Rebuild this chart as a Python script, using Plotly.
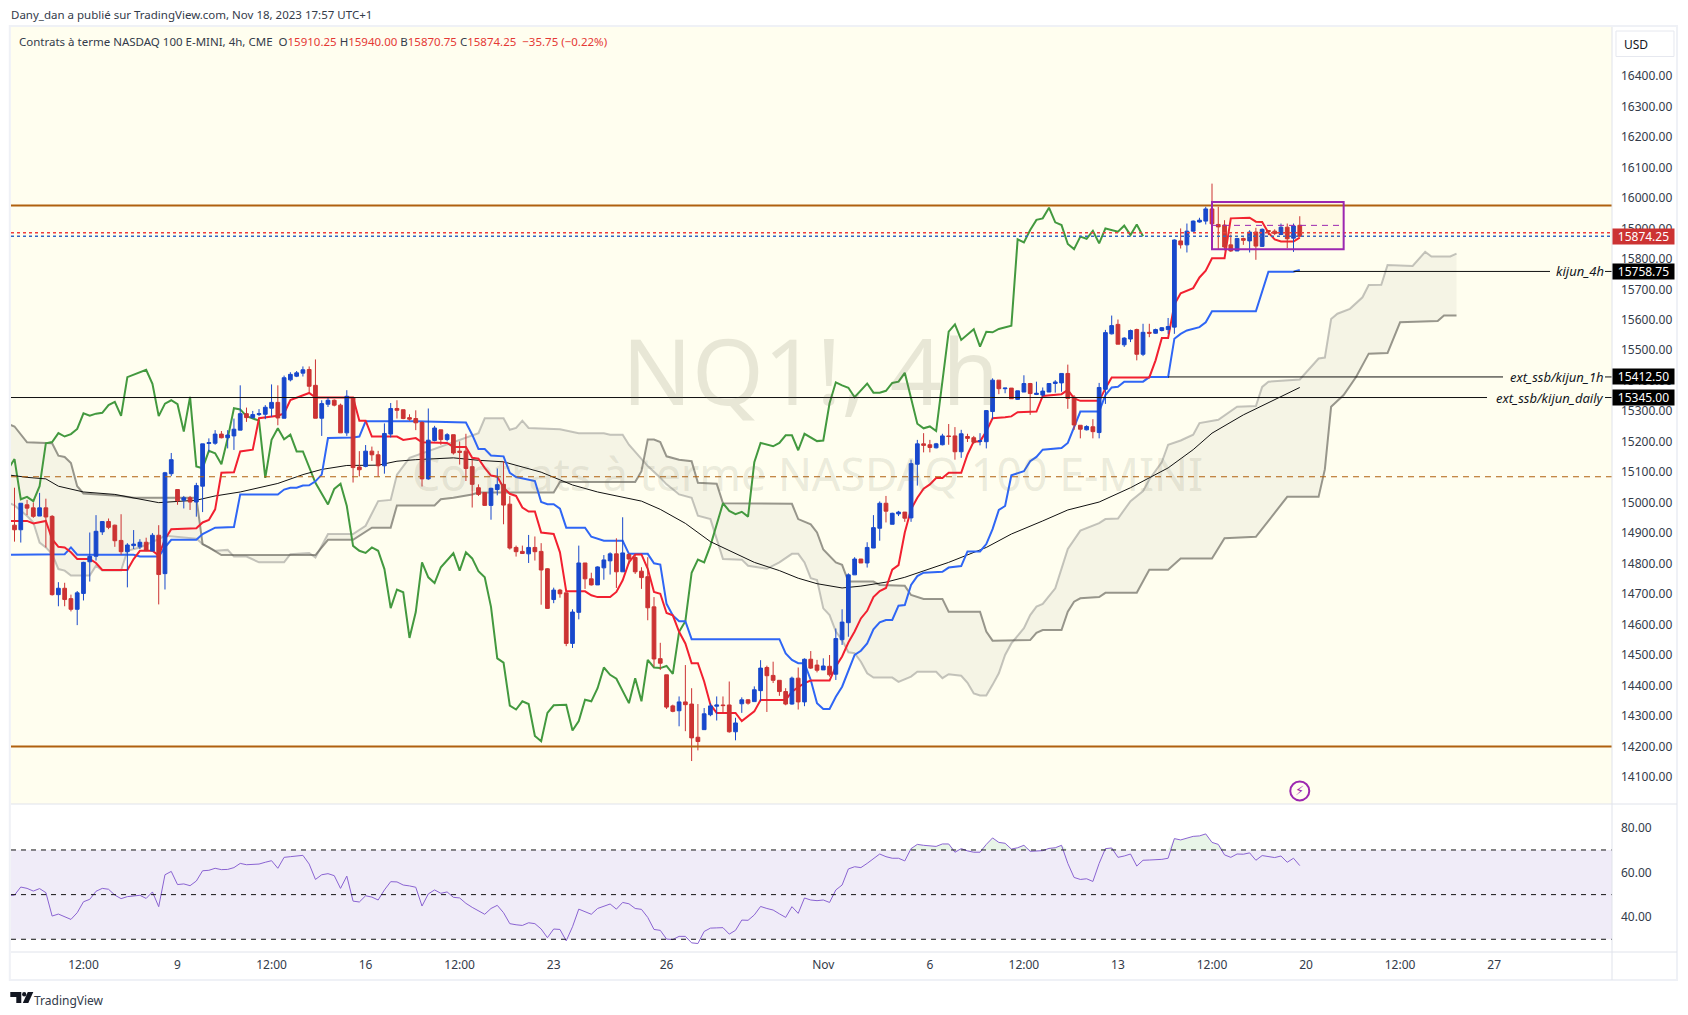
import numpy as np
import plotly.graph_objects as go

# 4h candles, bar 0 is the first one on the left
opens = [14926,14911,14993,14983,14956,14983,14955,14698,14719,14685,
    14650,14702,14806,14824,14904,14938,14926,14876,14839,14859,
    14855,14870,14841,14893,14767,15095,15043,15008,15016,15002,
    15054,15194,15195,15225,15213,15219,15238,15292,15279,15289,
    15290,15310,15329,15277,15403,15415,15425,15437,15385,15277,
    15323,15336,15320,15229,15345,15117,15119,15169,15157,15121,
    15225,15309,15305,15279,15276,15263,15078,15204,15239,15207,
    15223,15169,15169,15118,15049,15033,14991,15043,15060,14995,
    14853,14840,14832,14853,14840,14783,14682,14713,14704,14538,
    14640,14802,14750,14730,14786,14809,14832,14773,14830,14820,
    14775,14757,14658,14488,14435,14333,14317,14346,14339,14230,
    14255,14304,14332,14336,14336,14248,14340,14353,14347,14383,
    14459,14433,14417,14380,14339,14424,14346,14486,14467,14451,
    14463,14437,14550,14606,14763,14815,14802,14851,14916,14998,
    14929,14963,14969,14950,15126,15193,15190,15180,15190,15219,
    15219,15167,15217,15213,15201,15200,15299,15402,15374,15376,
    15339,15363,15391,15355,15353,15363,15391,15393,15424,15346,
    15254,15239,15249,15230,15372,15554,15585,15518,15537,15568,
    15487,15559,15556,15565,15568,15576,15859,15846,15891,15921,
    15924,15964,15913,15911,15846,15826,15867,15859,15888,15841,
    15893,15891,15880,15904,15868,15910.25]
highs = [15049,14998,15009,15000,15032,15013,14959,14739,14737,14698,
    14710,14806,14902,14959,14938,14948,14928,14962,14867,14910,
    14880,14885,14900,14926,15101,15163,15043,15022,15022,15065,
    15193,15211,15238,15235,15238,15276,15385,15312,15301,15307,
    15320,15388,15385,15417,15428,15432,15447,15447,15470,15336,
    15345,15339,15325,15369,15345,15169,15189,15184,15170,15260,
    15327,15336,15305,15290,15303,15267,15309,15252,15239,15228,
    15223,15201,15226,15141,15060,15033,15049,15112,15136,15022,
    14859,14859,14894,14889,14867,14785,14721,14717,14704,14650,
    14859,14802,14770,14791,14828,14837,14883,14952,14833,14830,
    14788,14821,14690,14540,14435,14337,14364,14467,14391,14339,
    14326,14342,14364,14364,14413,14294,14361,14355,14397,14483,
    14465,14478,14417,14391,14429,14459,14489,14513,14484,14489,
    14500,14587,14650,14768,14821,14815,14870,14959,15004,15022,
    14967,14973,14969,15141,15206,15228,15206,15196,15226,15258,
    15248,15239,15226,15219,15228,15304,15408,15402,15376,15376,
    15367,15418,15393,15397,15378,15391,15402,15424,15453,15353,
    15254,15254,15274,15393,15567,15614,15601,15543,15568,15571,
    15587,15587,15571,15576,15606,15864,15900,15916,15926,15935,
    15971,16047,15971,15927,15880,15869,15870,15894,15902,15900,
    15893,15897,15916,15916,15916,15940]
lows = [14872,14869,14959,14950,14956,14853,14695,14660,14660,14643,
    14598,14679,14741,14810,14894,14913,14855,14829,14722,14848,
    14848,14841,14841,14666,14715,15087,14993,14981,14976,14954,
    14969,15167,15190,15211,15178,15173,15238,15265,15276,15284,
    15274,15282,15254,15277,15398,15412,15414,15363,15277,15219,
    15314,15316,15229,15219,15066,15086,15116,15137,15086,15095,
    15214,15276,15274,15269,15238,15053,15075,15201,15190,15201,
    15158,15125,15071,14984,15022,14989,14944,15024,14929,14846,
    14823,14832,14802,14810,14665,14652,14670,14688,14529,14523,
    14617,14717,14728,14730,14747,14764,14720,14773,14799,14766,
    14717,14614,14462,14451,14323,14312,14266,14250,14152,14187,
    14255,14299,14285,14310,14245,14220,14310,14337,14347,14348,
    14313,14408,14366,14335,14337,14321,14332,14454,14443,14451,
    14429,14418,14533,14560,14763,14802,14787,14851,14875,14935,
    14929,14956,14937,14937,15056,15165,15165,15178,15188,15190,
    15141,15147,15199,15193,15188,15178,15274,15356,15359,15341,
    15337,15363,15288,15353,15348,15363,15361,15364,15308,15239,
    15211,15237,15211,15211,15324,15552,15520,15511,15527,15467,
    15481,15543,15554,15562,15554,15554,15834,15821,15889,15919,
    15913,15911,15832,15828,15823,15826,15846,15821,15797,15839,
    15878,15878,15878,15835,15823,15870.75]
closes = [14911,14998,14982,14955,14983,14953,14698,14719,14682,14650,
    14704,14804,14824,14906,14938,14919,14875,14839,14861,14864,
    14870,14843,14893,14764,15098,15141,15006,15016,15002,15056,
    15193,15197,15225,15213,15222,15241,15292,15279,15289,15292,
    15313,15329,15278,15410,15421,15426,15436,15382,15277,15325,
    15336,15320,15229,15349,15115,15108,15169,15157,15121,15227,
    15309,15303,15276,15274,15262,15078,15205,15245,15207,15223,
    15163,15165,15112,15060,15027,14991,15047,15059,14992,14851,
    14839,14833,14853,14839,14779,14653,14713,14701,14538,14641,
    14802,14750,14730,14789,14812,14832,14773,14835,14815,14773,
    14754,14655,14487,14473,14329,14315,14346,14337,14228,14216,
    14307,14333,14336,14334,14248,14277,14353,14342,14386,14457,
    14432,14417,14380,14339,14424,14346,14486,14457,14450,14464,
    14435,14554,14608,14763,14815,14802,14853,14918,14998,14972,
    14965,14969,14949,15128,15193,15188,15181,15193,15219,15217,
    15167,15226,15211,15198,15203,15302,15402,15374,15376,15341,
    15367,15391,15358,15359,15366,15391,15396,15424,15342,15255,
    15241,15250,15233,15378,15558,15581,15520,15540,15565,15487,
    15559,15556,15568,15574,15578,15862,15846,15891,15924,15927,
    15964,15915,15905,15839,15826,15867,15861,15888,15842,15897,
    15890,15883,15904,15866,15908,15874.25]

# ichimoku lines, read as vertices (bar, price); they start off the left edge
tenkan_bar = [-1,0,2,3,5,6,7,8,9,10,12,13,14,18,19,20,22,23,24,25,29,30,31,32,33,35,36,38,39,42,43,44,46,47,48,54,55,56,57,61,62,64,
    65,69,70,72,73,74,75,76,77,78,79,80,81,82,83,84,86,87,88,91,92,93,95,96,97,98,99,100,101,102,103,104,105,106,107,108,109,110,111,112,115,116,118,119,123,124,126,127,130,
    131,132,133,134,135,136,137,138,139,140,141,142,143,144,145,146,147,148,149,151,152,153,154,155,156,158,159,160,163,164,167,168,169,170,173,174,175,181,182,183,184,185,186,188,189,190,191,193,194,197,198,199,200,201,202,204,205]
tenkan = [14940,14940,14940,14932,14940,14880,14855,14853,14837,14815,14815,14802,14779,14779,14815,14842,14842,14826,14880,14913,14916,14935,14943,14978,15098,15100,15168,15174,15277,15285,15293,15337,15353,15360,15345,15345,15269,15269,15217,15217,15206,15212,
    15198,15196,15183,15183,15147,15144,15114,15089,15085,15049,15029,15022,14984,14971,14971,14902,14897,14837,14709,14709,14696,14690,14690,14707,14745,14804,14830,14830,14783,14707,14701,14638,14630,14576,14538,14473,14473,14413,14337,14310,14310,14283,14315,14352,14352,14380,14408,14416,14416,
    14462,14495,14541,14577,14620,14645,14690,14710,14720,14780,14795,14902,14978,15016,15046,15060,15081,15081,15098,15098,15158,15201,15201,15234,15277,15280,15283,15297,15299,15350,15356,15370,15342,15334,15334,15375,15411,15411,15467,15540,15540,15650,15687,15704,15739,15761,15802,15802,15933,15935,15922,15921,15886,15864,15857,15857,15870]

kijun_bar = [-1,0,7,8,9,10,19,20,23,24,25,29,30,32,35,36,42,43,44,45,46,47,48,49,50,54,55,56,64,
    72,73,74,75,76,78,79,80,82,83,84,85,86,87,88,91,92,94,97,98,101,102,103,104,105,106,107,108,122,123,124,125,126,127,128,129,130,131,132,133,134,135,136,137,138,139,140,
    141,142,143,144,145,148,149,151,152,154,155,156,157,158,159,161,162,163,164,167,168,169,170,173,174,175,176,177,180,181,184,185,186,187,189,190,191,198,200,204,205]
kijun = [14829,14829,14829,14831,14853,14829,14829,14823,14823,14853,14878,14878,14897,14918,14920,15027,15027,15043,15049,15049,15056,15057,15070,15092,15212,15214,15217,15267,15267,
    15263,15223,15176,15176,15155,15152,15098,15084,15076,15071,15002,14995,14995,14980,14918,14918,14888,14875,14875,14832,14832,14801,14797,14668,14630,14611,14611,14552,14552,14505,14484,14473,14473,14418,14342,14323,14323,14363,14396,14451,14500,14514,14538,14584,14607,14615,14615,
    14662,14664,14730,14759,14770,14773,14787,14792,14840,14840,14864,14913,14976,14989,15090,15103,15136,15150,15174,15179,15196,15250,15299,15299,15353,15378,15380,15397,15397,15412,15412,15538,15554,15565,15576,15592,15628,15628,15758,15758,15764]

chikou_bar = [-1,0,1,2,3,4,5,6,7,8,9,10,11,12,13,14,15,16,17,18,21,22,23,24,25,26,27,28,29,30,31,32,33,34,35,36,37,39,40,41,42,43,44,45,46,47,48,50,51,52,53,54,55,56,57,58,59,60,61,62,63,64,
    65,66,67,68,70,71,72,73,74,75,76,77,78,79,80,81,82,83,84,85,86,88,89,90,91,92,93,94,95,96,98,99,100,101,102,103,104,105,106,107,108,109,110,111,112,113,114,115,116,117,118,119,121,122,123,124,125,126,128,129,130,
    131,132,133,134,136,137,138,139,140,141,142,144,145,146,147,149,150,151,153,154,155,156,157,159,160,161,162,163,164,165,166,167,168,169,170,171,172,173,174,176,177,178,179,180]
chikou = [15110,15143,15011,15019,15005,15054,15195,15199,15228,15217,15225,15242,15293,15285,15292,15295,15320,15331,15285,15412,15436,15390,15284,15325,15336,15323,15233,15347,15119,15113,15170,15162,15126,15211,15310,15306,15284,15269,15081,15206,15244,15208,15223,15168,15168,15119,15065,14994,15045,15062,14989,14858,14842,14835,14853,14842,14782,14654,14715,14706,14556,14641,
    14804,14755,14736,14788,14834,14777,14837,14817,14775,14755,14658,14489,14475,14334,14321,14348,14339,14234,14217,14310,14335,14337,14252,14283,14353,14348,14391,14459,14435,14422,14342,14424,14348,14484,14459,14457,14464,14438,14576,14611,14770,14813,14804,14859,14929,14998,14973,14962,14970,14954,15133,15196,15185,15196,15221,15221,15172,15226,15202,15204,15326,
    15395,15385,15377,15346,15391,15361,15361,15367,15393,15397,15426,15259,15244,15250,15235,15561,15585,15534,15569,15512,15561,15559,15570,15581,15864,15854,15895,15928,15933,15968,15920,15911,15849,15832,15873,15866,15892,15851,15900,15889,15909,15878,15913,15874.25]

span_a_bar = [-1,0,2,3,4,5,6,7,8,9,12,13,14,17,18,20,23,24,29,30,32,34,35,37,39,43,44,47,48,50,54,56,58,60,61,63,
    74,75,78,79,80,81,82,87,90,94,95,97,98,100,101,103,104,105,106,108,109,111,112,113,116,117,120,122,124,125,126,127,128,129,130,131,132,133,134,135,136,137,140,141,143,144,147,148,149,151,152,153,154,155,156,157,158,159,161,162,163,164,166,168,170,173,174,176,178,179,180,181,183,184,186,188,189,192,195,198,199,200,205,208,209,210,211,213,215,216,218,219,223,225,226,229,230]
span_a = [15000,14991,14956,14935,14869,14853,14831,14782,14777,14761,14761,14793,14777,14777,14842,14853,14880,14891,14882,14864,14842,14845,14823,14823,14804,14804,14831,14835,14820,14897,14897,14924,15005,15009,15092,15147,
    15228,15277,15277,15239,15245,15269,15245,15241,15228,15228,15223,15223,15190,15141,15120,15082,15060,15044,15027,15016,14957,14946,14880,14815,14813,14793,14783,14804,14832,14832,14804,14752,14746,14653,14631,14577,14549,14509,14506,14478,14440,14426,14426,14412,14429,14445,14445,14424,14437,14432,14409,14374,14367,14367,14402,14440,14500,14538,14588,14631,14659,14668,14719,14848,14908,14933,14946,14948,15005,15022,15038,15076,15133,15190,15204,15223,15261,15272,15315,15317,15380,15397,15404,15473,15476,15603,15620,15636,15674,15714,15715,15780,15777,15823,15808,15808,15817]

span_b_bar = [-1,0,2,6,7,8,9,10,11,17,19,29,30,31,33,48,50,54,57,60,61,67,68,70,73,74,86,87,99,100,101,102,103,104,106,108,109,112,113,124,125,127,128,129,131,132,133,137,138,142,143,145,148,149,154,155,156,162,163,164,167,168,169,170,173,174,179,181,184,186,191,193,198,203,208,209,210,212,214,216,219,221,227,228,230]
span_b = [15258,15250,15198,15195,15154,15150,15130,15054,15030,15022,15016,15016,14864,14853,14828,14828,14878,14878,14918,14918,14991,14991,15011,15016,15027,15033,15033,15068,15068,15103,15207,15207,15199,15152,15141,15136,15065,15062,14998,14996,14946,14929,14902,14846,14804,14796,14741,14741,14730,14727,14697,14684,14684,14642,14642,14577,14547,14549,14573,14582,14582,14642,14675,14686,14690,14704,14704,14780,14780,14817,14817,14883,14888,15019,15019,15109,15315,15353,15413,15489,15491,15592,15596,15614,15614]

sma_bar = [-1,2,5,7,11,16,23,29,32,36,42,46,49,53,58,61,64,70,74,78,84,89,93,100,103,107,111,115,118,122,125,128,132,135,139,142,145,149,155,159,164,168,173,178,184,188,191,196,202,205]
sma = [15091,15083,15078,15054,15035,15027,15000,15008,15022,15035,15063,15092,15109,15122,15123,15136,15141,15147,15139,15134,15100,15058,15035,15005,14978,14932,14872,14832,14804,14777,14752,14734,14720,14726,14739,14755,14777,14804,14853,14897,14940,14976,15002,15049,15114,15174,15228,15288,15348,15378]

# rsi, one value per bar, from one bar before the first candle
rsi = [49.6,49.8,53.4,52.8,51.6,52.7,50.9,40.4,41.3,40.1,38.9,41.9,46.8,47.9,51.5,52.8,52.4,49.8,48.2,49.1,49.4,
    49.7,48.3,51.2,44.6,58.9,60.4,54.5,54.8,54.0,56.1,60.7,60.9,61.8,61.2,61.3,62.1,64.0,63.4,63.5,63.7,
    64.5,65.2,61.8,66.7,67.0,67.3,67.6,63.7,56.8,58.9,59.4,58.5,52.8,58.3,47.1,46.7,49.5,48.9,47.6,52.1,
    55.8,55.7,54.3,53.9,53.3,44.9,50.3,52.1,50.6,51.2,48.8,48.5,46.1,44.3,42.6,41.2,43.8,45.2,41.9,37.0,
    36.5,36.2,37.4,37.0,34.6,30.7,34.6,34.4,29.3,35.6,43.5,42.2,41.2,43.8,44.9,45.8,43.5,46.5,45.9,43.8,
    43.4,39.8,34.4,34.0,30.1,29.9,31.3,31.3,28.4,28.1,33.5,35.0,35.1,35.2,32.3,34.0,38.6,38.5,40.9,44.7,
    43.8,43.1,41.4,39.8,44.6,41.6,48.5,47.6,47.3,47.6,46.5,52.1,54.3,61.5,62.5,62.1,64.0,66.3,68.2,67.0,
    66.3,66.3,65.1,70.6,72.5,72.1,71.8,71.6,72.7,72.7,69.0,70.6,69.6,69.0,69.0,72.5,75.4,73.4,73.0,70.4,
    71.0,72.1,69.4,69.6,69.7,70.7,71.0,72.1,64.0,57.7,56.8,57.1,55.9,64.0,70.6,70.9,66.7,67.3,68.2,62.8,
    65.4,65.5,65.6,65.8,66.3,75.1,74.5,75.2,76.1,76.3,77.2,73.4,72.5,67.8,66.7,68.2,68.1,68.7,65.4,67.5,
    67.2,66.6,67.3,64.5,66.3,63.0]

# levels and drawings
resistance = 15975
support = 14200
dashed_level = 15085
last_price = 15874.25
bid_level = 15886
named_levels = [15758.75, 15412.50, 15345.00]
named_labels = ["kijun_4h", "ext_ssb/kijun_1h", "ext_ssb/kijun_daily"]
named_start = [204, 184, None]
named_end_px = [1550, 1503, 1487]
box_bars = [191, 212]
box_prices = [15832, 15987]
box_mid = 15910

price_ticks = list(range(14100, 16500, 100))
rsi_ticks = [40, 60, 80]
rsi_bands = [30, 50, 70]
x_tick_bars = [11, 26, 41, 56, 71, 86, 104, 129, 146, 161, 176, 191, 206, 221, 236]
x_tick_text = ["12:00", "9", "12:00", "16", "12:00", "23", "26", "Nov", "6", "12:00", "13", "12:00", "20", "12:00", "27"]

FONT = "Noto Sans"
L, R, T, B = 10.7, 1612, 27, 952   # plot box in page pixels
SPLIT = 804


def px(x, y):
    return (x - L) / (R - L), (B - y) / (B - T)


bars = np.arange(len(closes))
rsi_bar = np.arange(-1, len(closes))
xrange_ = [-0.56, 254.8]
split_frac = (B - SPLIT) / (B - T)


def bar_at(x):
    return (x - L) / (R - L) * (xrange_[1] - xrange_[0]) + xrange_[0]


fig = go.Figure()

# cloud fill
fig.add_trace(go.Scatter(x=span_a_bar + span_b_bar[::-1], y=span_a + span_b[::-1], mode="lines",
    fill="toself", fillcolor="rgba(120,115,105,0.07)", line=dict(width=0), hoverinfo="skip", showlegend=False))


def add_line(x, y, color, width, yaxis="y"):
    fig.add_trace(go.Scatter(x=x, y=y, mode="lines", line=dict(color=color, width=width), yaxis=yaxis, showlegend=False))


add_line(span_a_bar, span_a, "rgba(150,150,145,0.55)", 2)
add_line(span_b_bar, span_b, "rgba(90,88,80,0.62)", 2)
add_line(chikou_bar, chikou, "#43993f", 2)
add_line(sma_bar, sma, "#111111", 1)
add_line(kijun_bar, kijun, "#2f66f5", 2)
add_line(tenkan_bar, tenkan, "#f22030", 2)

# candles sit on an overlay axis so they stay above the lines
fig.add_trace(go.Candlestick(x=bars, open=opens, high=highs, low=lows, close=closes, yaxis="y3",
    increasing=dict(line=dict(color="#1848cc", width=1), fillcolor="#1848cc"),
    decreasing=dict(line=dict(color="#cc3333", width=1), fillcolor="#cc3333"),
    whiskerwidth=0, showlegend=False))

# rsi pane
fig.add_trace(go.Scatter(x=xrange_, y=[rsi_bands[2]] * 2, mode="lines", line=dict(width=0), yaxis="y2", showlegend=False))
fig.add_trace(go.Scatter(x=xrange_, y=[rsi_bands[0]] * 2, mode="lines", line=dict(width=0), fill="tonexty",
    fillcolor="rgba(126,87,194,0.115)", yaxis="y2", showlegend=False))
fig.add_trace(go.Scatter(x=rsi_bar, y=[rsi_bands[2]] * len(rsi), mode="lines", line=dict(width=0), yaxis="y2", showlegend=False))
fig.add_trace(go.Scatter(x=rsi_bar, y=np.maximum(rsi, rsi_bands[2]), mode="lines", line=dict(width=0), fill="tonexty",
    fillcolor="rgba(76,175,80,0.13)", yaxis="y2", showlegend=False))
add_line(rsi_bar, rsi, "#8a63d2", 1, "y2")

# alert icon on the last bar
fig.add_trace(go.Scatter(x=[bars[-1]], y=[14054], mode="markers", yaxis="y3",
    marker=dict(symbol="circle-open", size=19, color="#9c27b0", line=dict(width=2, color="#9c27b0")), showlegend=False))

shapes = []


def hline(level, color, width=1, dash="solid", x0=None, x1=None, yref="y", layer="above"):
    shapes.append(dict(type="line", xref="x", yref=yref, layer=layer,
        x0=xrange_[0] if x0 is None else x0, x1=xrange_[1] if x1 is None else x1, y0=level, y1=level,
        line=dict(color=color, width=width, dash=dash)))


hline(resistance, "#b0600f", 2)
hline(support, "#b0600f", 2)
hline(dashed_level, "#b0600f", 1, "6px,5px")
hline(bid_level, "#ef3b3b", 1.5, "dot")
hline(last_price, "#2f66c5", 1.5, "dot")
for lev, start, end in zip(named_levels, named_start, named_end_px):
    hline(lev, "#111111", 1, x0=start, x1=bar_at(end))
    hline(lev, "#111111", 1, x0=bar_at(1605))

shapes.append(dict(type="rect", xref="x", yref="y", x0=box_bars[0], x1=box_bars[1], y0=box_prices[0], y1=box_prices[1],
    line=dict(color="#9c27b0", width=2), fillcolor="rgba(255,152,0,0.04)", layer="above"))
hline(box_mid, "#9c27b0", 1, "6px,5px", x0=box_bars[0], x1=box_bars[1])

for band in rsi_bands:
    hline(band, "#111111", 1, "5px,5px", yref="y2")


# page furniture in pixels
def page_line(x0, y0, x1, y1, color="#e0e3eb", width=1):
    a, b = px(x0, y0)
    c, d = px(x1, y1)
    shapes.append(dict(type="line", xref="paper", yref="paper", x0=a, y0=b, x1=c, y1=d, line=dict(color=color, width=width), layer="above"))


page_line(R, T, R, 980)
page_line(L, SPLIT, 1677, SPLIT)
page_line(L, B, 1677, B)
a, b = px(9.5, 980)
c, d = px(1677, 26)
shapes.append(dict(type="rect", xref="paper", yref="paper", x0=a, y0=b, x1=c, y1=d, line=dict(color="#eff1f6", width=2), layer="below"))
a, b = px(1616, 56.5)
c, d = px(1674, 31)
shapes.append(dict(type="rect", xref="paper", yref="paper", x0=a, y0=b, x1=c, y1=d, line=dict(color="#e6e8ef", width=1), fillcolor="white", layer="above"))


# logo
def logo_path(points):
    return "M" + " L".join("%.5f,%.5f" % px(x, y) for x, y in points) + " Z"


for poly in ([(10, 992), (21, 992), (21, 1003), (16, 1003), (16, 997), (10, 997)],
             [(27.5, 992), (33, 992), (28, 1003), (22.5, 1003)]):
    shapes.append(dict(type="path", xref="paper", yref="paper", path=logo_path(poly), fillcolor="#131722", line=dict(width=0)))
a, b = px(21.8, 996.5)
c, d = px(26, 992)
shapes.append(dict(type="circle", xref="paper", yref="paper", x0=a, y0=b, x1=c, y1=d, fillcolor="#131722", line=dict(width=0)))

annotations = []


def page_text(x, y, text, size=12, color="#333b4a", anchor="left", **kw):
    a, b = px(x, y)
    annotations.append(dict(xref="paper", yref="paper", x=a, y=b, text=text, showarrow=False, xanchor=anchor, yanchor="middle",
        font=dict(family=FONT, size=size, color=color), **kw))


page_text(9, 15, "Dany_dan a publié sur TradingView.com, Nov 18, 2023 17:57 UTC+1", 11.5, "#333b4a")
num = '<span style="color:#e53935">%s</span>'
legend = ("Contrats à terme NASDAQ 100 E-MINI, 4h, CME  O" + num % "15910.25" + " H" + num % "15940.00" +
          " B" + num % "15870.75" + " C" + num % "15874.25" + "  " + num % "−35.75 (−0.22%)")
page_text(17, 42, legend, 11.5, "#333b4a")
page_text(1622, 44, "USD", 12, "#131722")
page_text(32, 1001, "TradingView", 12, "#333b4a")

# watermark
page_text(810, 369, "NQ1!, 4h", 92, "rgba(110,110,90,0.16)", "center")
page_text(807, 474, "Contrats à terme NASDAQ 100 E-MINI", 44.7, "rgba(110,110,90,0.14)", "center")

for lev, lab in zip(named_levels, named_labels):
    annotations.append(dict(xref="paper", yref="y", x=px(1606, 0)[0], y=lev, text="<i>%s</i>" % lab, showarrow=False, xanchor="right",
        font=dict(family=FONT, size=13, color="#131722"), bgcolor="rgba(0,0,0,0)"))

tags = [(last_price, "#cc3333", "15874.25")] + [(lev, "#000000", "%.2f" % lev) for lev in named_levels]
for lev, col, txt in tags:
    annotations.append(dict(xref="paper", yref="y", x=1.0, y=lev, text=txt, showarrow=False, xanchor="left",
        width=61, height=15, bgcolor=col, borderpad=0, font=dict(family=FONT, size=12, color="white"), align="center"))

annotations.append(dict(xref="x", yref="y", x=int(bars[-1]), y=14054, text="⚡", showarrow=False,
    font=dict(family="DejaVu Sans", size=13, color="#9c27b0")))

fig.update_layout(
    width=1688, height=1015, autosize=False,
    margin=dict(l=L, r=1688 - R, t=T, b=1015 - B, pad=0, autoexpand=False),
    paper_bgcolor="white", plot_bgcolor="white",
    showlegend=False, dragmode=False, boxgap=0.15,
    font=dict(family=FONT, size=12, color="#333b4a"),
    shapes=shapes, annotations=annotations,
    xaxis=dict(range=xrange_, anchor="y2", tickmode="array", tickvals=x_tick_bars, ticktext=x_tick_text, showgrid=False, zeroline=False,
        rangeslider=dict(visible=False), ticks="", showline=False, tickfont=dict(size=12), ticklabelstandoff=4),
    yaxis=dict(domain=[split_frac, 1], range=[14011, 16561], side="right", anchor="x", tickmode="array", tickvals=price_ticks,
        tickformat=".2f", showgrid=False, zeroline=False, ticks="", ticklabelstandoff=8, tickfont=dict(size=12)),
    yaxis3=dict(overlaying="y", matches="y", side="right", visible=False, range=[14011, 16561]),
    yaxis2=dict(domain=[0, split_frac], range=[24.3, 90.6], side="right", anchor="x", tickmode="array", tickvals=rsi_ticks,
        tickformat=".2f", showgrid=False, zeroline=False, ticks="", ticklabelstandoff=8, tickfont=dict(size=12)),
)
# only the price pane is cream
a, b = px(L, SPLIT)
c, d = px(R, T)
fig.add_shape(type="rect", xref="paper", yref="paper", x0=a, y0=b, x1=c, y1=d, fillcolor="#fffeef", line=dict(width=0), layer="below")

fig.write_html("out.html", config=dict(displayModeBar=False), post_script="document.body.style.margin='0';")
